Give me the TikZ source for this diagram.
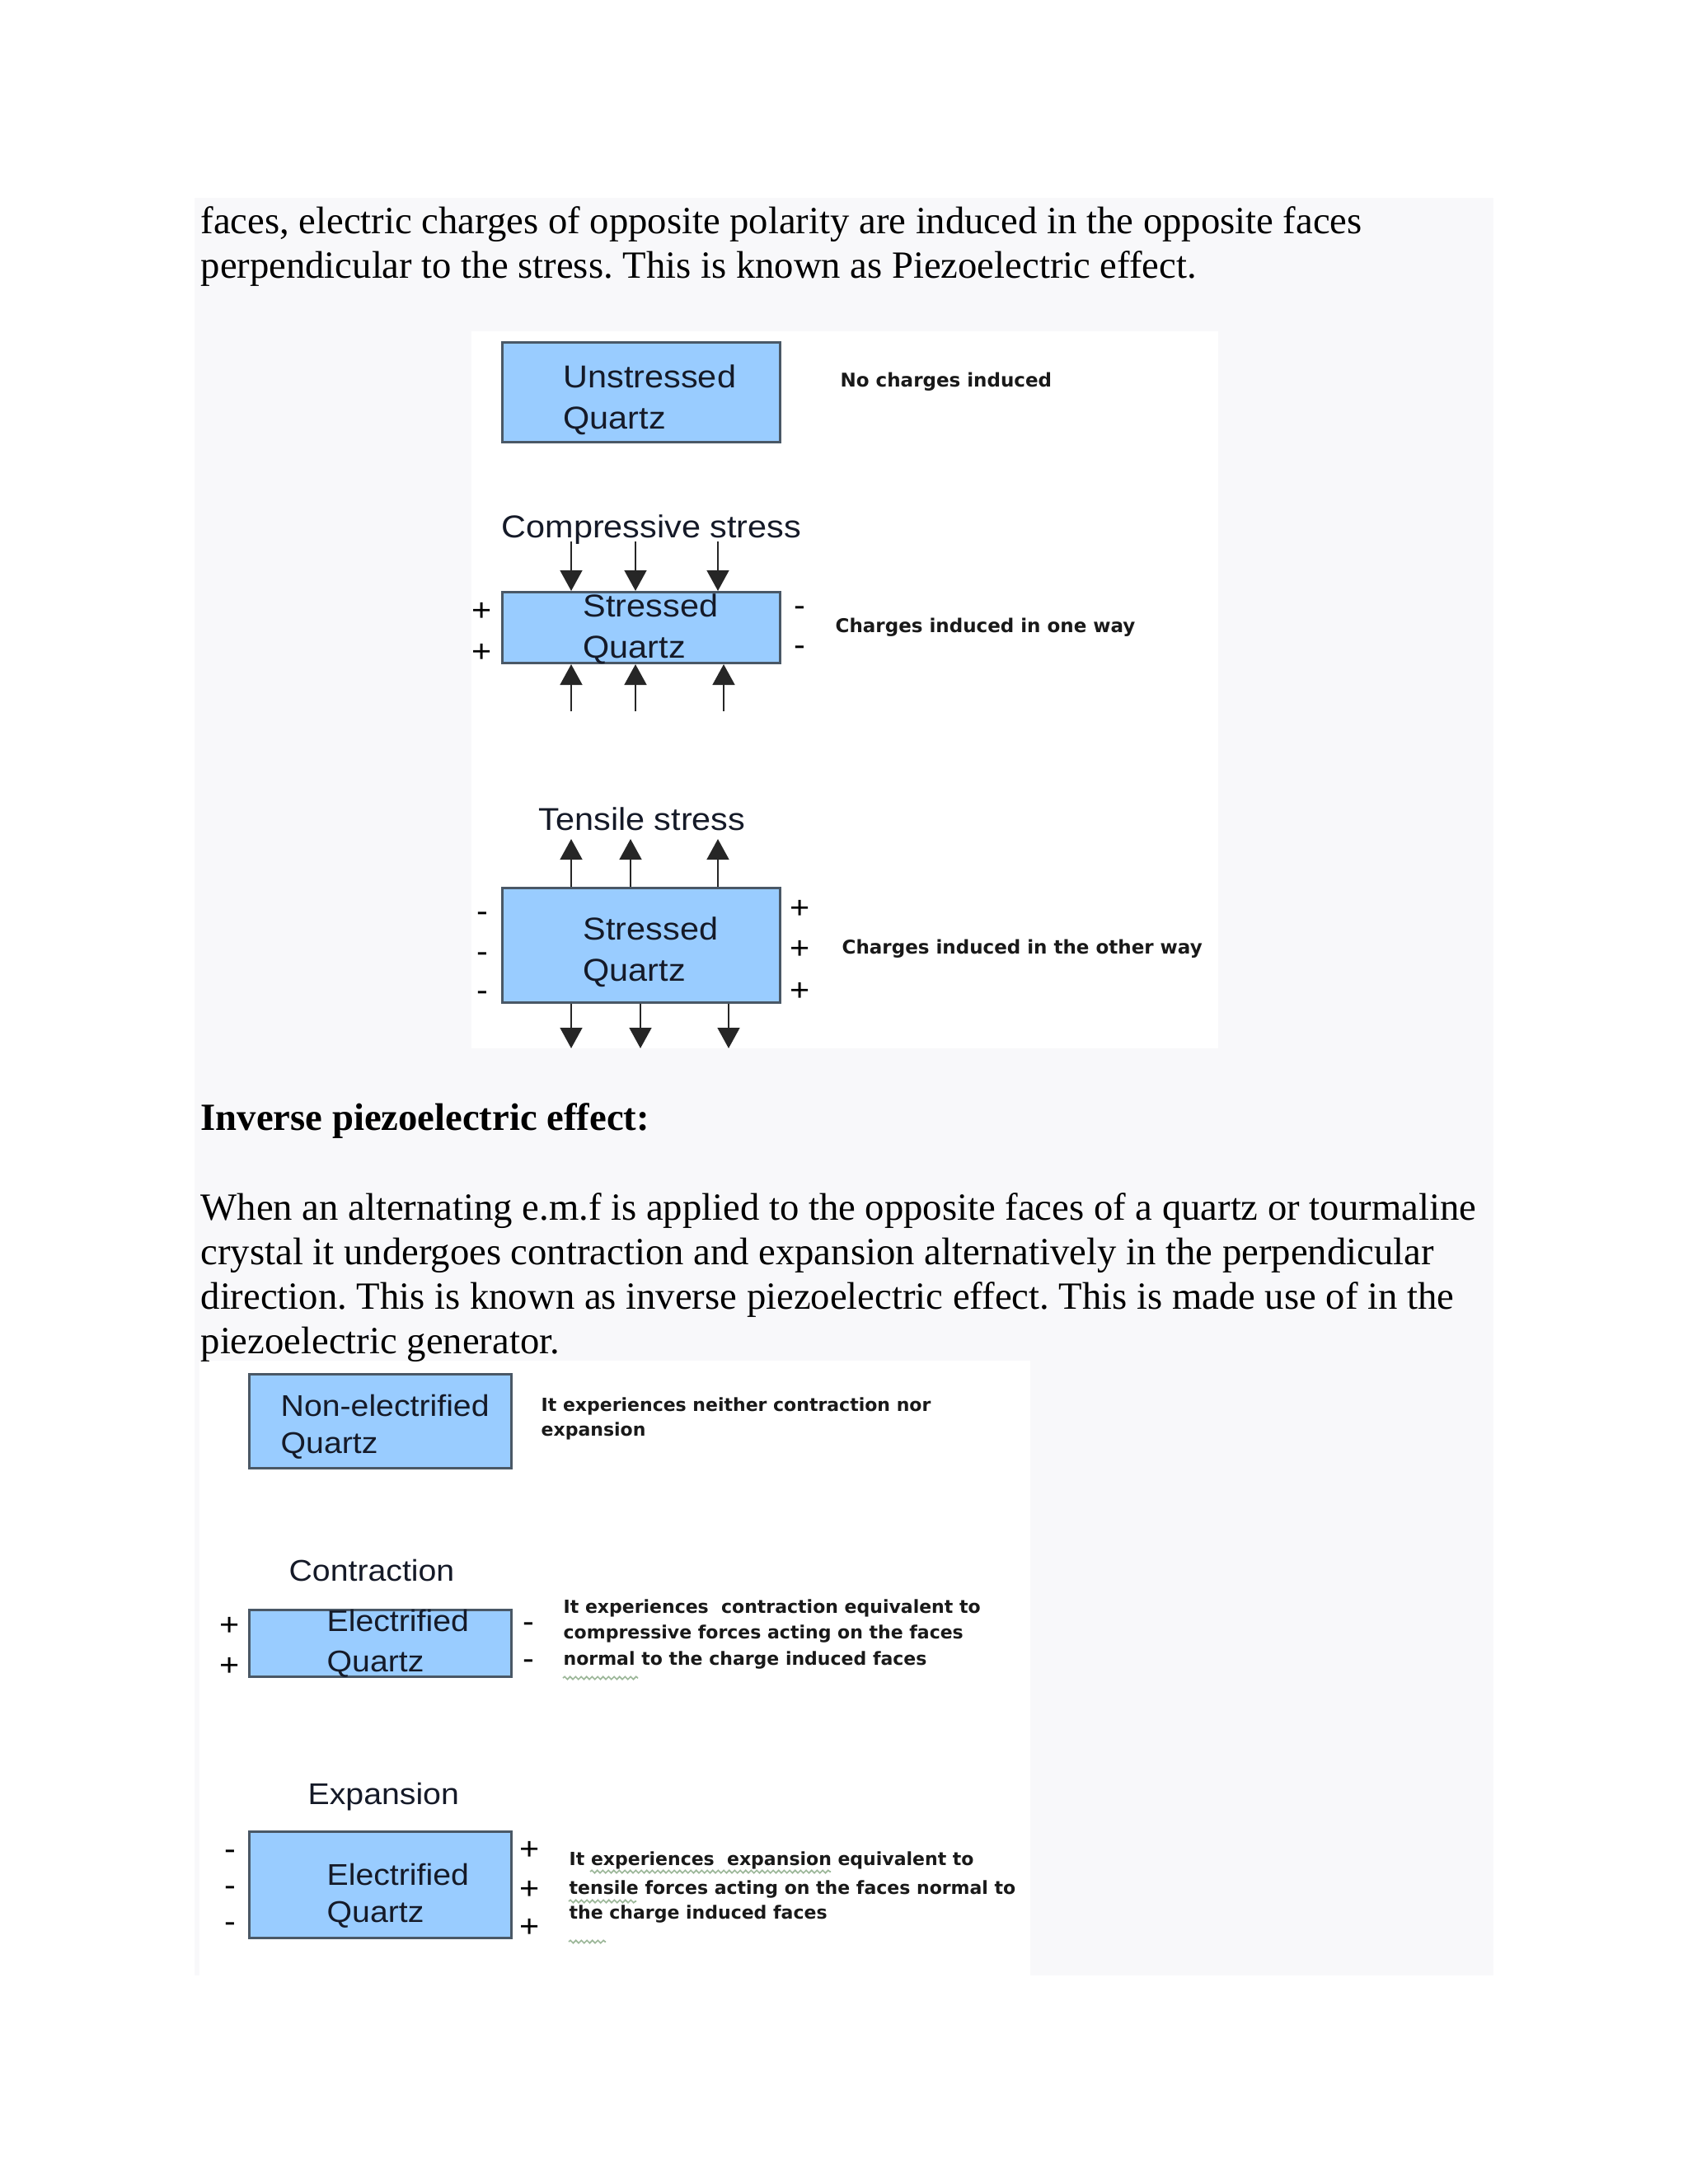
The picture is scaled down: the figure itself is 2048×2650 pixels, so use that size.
\documentclass[tikz,border=0pt]{standalone}
\usepackage{fontspec}
\setmainfont{Liberation Serif}
\newfontfamily\labfont[FakeStretch=1.08]{Liberation Sans}
\newfontfamily\sidefont{DejaVu Sans}
\usetikzlibrary{arrows.meta,decorations.pathmorphing}
\definecolor{pagegray}{HTML}{F8F8FA}
\definecolor{boxblue}{HTML}{99CCFF}
\definecolor{boxline}{HTML}{4A5866}
\definecolor{squigcol}{HTML}{9DB89A}
\definecolor{labtext}{HTML}{151A28}
\frenchspacing
\tikzset{
  body/.style={anchor=base west, inner sep=0pt, font=\fontsize{14}{16}\selectfont},
  labA/.style={anchor=base west, inner sep=0pt, text=labtext, font=\labfont\fontsize{11.5}{13}\selectfont},
  labB/.style={anchor=base west, inner sep=0pt, text=labtext, font=\labfont\fontsize{10.9}{12}\selectfont},
  sideA/.style={anchor=base west, inner sep=0pt, text=black!90, font=\sidefont\bfseries\fontsize{6.9}{8}\selectfont},
  sideB/.style={anchor=base west, inner sep=0pt, text=black!90, font=\sidefont\bfseries\fontsize{6.6}{8}\selectfont},
  chg/.style={inner sep=0pt, font=\labfont\fontsize{11.5}{13}\selectfont},
  quartz/.style={draw=boxline, fill=boxblue, line width=0.9pt, anchor=north west, inner sep=0pt},
  arr/.style={draw=black!85, line width=0.8pt, -{Triangle[length=7.5pt,width=8pt]}},
  squig/.style={draw=squigcol, line width=0.5pt, decorate, decoration={snake, amplitude=0.5pt, segment length=2pt}}
}
\begin{document}
\begin{tikzpicture}[x=0.3pt,y=-0.3pt]
\useasboundingbox (0,0) rectangle (2048,2650);
\fill[white] (0,0) rectangle (2048,2650);
\fill[pagegray] (236,240) rectangle (1812,2397);
\fill[white] (572,402) rectangle (1478,1272);
\fill[white] (242,1651) rectangle (1250,2397);

% body text
\node[body] (t1) at (243,283) {faces, electric charges of opposite polarity are induced in the opposite faces};
\node[body] (t2) at (243,337) {perpendicular to the stress. This is known as Piezoelectric effect.};
\node[body, font=\fontsize{14}{16}\selectfont\bfseries] (hd) at (243,1371) {Inverse piezoelectric effect:};
\node[body] (p1) at (243,1480) {When an alternating e.m.f is applied to the opposite faces of a quartz or tourmaline};
\node[body] (p2) at (243,1534) {crystal it undergoes contraction and expansion alternatively in the perpendicular};
\node[body] (p3) at (243,1588) {direction. This is known as inverse piezoelectric effect. This is made use of in the};
\node[body] (p4) at (243,1642) {piezoelectric generator.};

% ---------- image 1 ----------
\node[quartz, minimum width=101.1pt, minimum height=36.3pt] (b1) at (608,414) {};
\node[labA] (b1a) at (683,470) {Unstressed};
\node[labA] (b1b) at (683,520) {Quartz};
\node[sideA] (s1) at (1019,469) {No charges induced};

\node[labA] (cs) at (608,652) {Compressive stress};
\node[quartz, minimum width=101.1pt, minimum height=25.8pt] (b2) at (608,717) {};
\node[labA] (b2a) at (707,748) {Stressed};
\node[labA] (b2b) at (707,798) {Quartz};
\coordinate (d1) at (693,657);
\coordinate (d2) at (771,657);
\coordinate (d3) at (871,657);
\draw[arr] (d1) -- (d1 |- b2.north);
\draw[arr] (d2) -- (d2 |- b2.north);
\draw[arr] (d3) -- (d3 |- b2.north);
\coordinate (u1) at (693,863);
\coordinate (u2) at (771,863);
\coordinate (u3) at (878,863);
\draw[arr] (u1) -- (u1 |- b2.south);
\draw[arr] (u2) -- (u2 |- b2.south);
\draw[arr] (u3) -- (u3 |- b2.south);
\node[chg] (p2a) at (585,742) {+};
\node[chg] (p2b) at (585,792) {+};
\node[chg] (m2a) at (970,742) {-};
\node[chg] (m2b) at (970,790) {-};
\node[sideA] (s2) at (1013,767) {Charges induced in one way};

\node[labA] (ts) at (653,1007) {Tensile stress};
\node[quartz, minimum width=101.1pt, minimum height=41.7pt] (b3) at (608,1076) {};
\node[labA] (b3a) at (707,1140) {Stressed};
\node[labA] (b3b) at (707,1190) {Quartz};
\coordinate (e1) at (693,1018);
\coordinate (e2) at (765,1018);
\coordinate (e3) at (871,1018);
\draw[arr] (e1 |- b3.north) -- (e1);
\draw[arr] (e2 |- b3.north) -- (e2);
\draw[arr] (e3 |- b3.north) -- (e3);
\coordinate (f1) at (693,1272);
\coordinate (f2) at (777,1272);
\coordinate (f3) at (884,1272);
\draw[arr] (f1 |- b3.south) -- (f1);
\draw[arr] (f2 |- b3.south) -- (f2);
\draw[arr] (f3 |- b3.south) -- (f3);
\node[chg] (m3a) at (585,1113) {-};
\node[chg] (m3b) at (585,1162) {-};
\node[chg] (m3c) at (585,1209) {-};
\node[chg] (p3a) at (971,1103) {+};
\node[chg] (p3b) at (971,1152) {+};
\node[chg] (p3c) at (971,1203) {+};
\node[sideA] (s3) at (1021,1157) {Charges induced in the other way};

% ---------- image 2 ----------
\node[quartz, minimum width=95.4pt, minimum height=34.2pt] (b4) at (301,1666) {};
\node[labB] (b4a) at (340,1718) {Non-electrified};
\node[labB] (b4b) at (340,1763) {Quartz};
\node[sideB] (s4a) at (656,1712) {It experiences neither contraction nor};
\node[sideB] (s4b) at (656,1742) {expansion};

\node[labB] (ct) at (350,1918) {Contraction};
\node[quartz, minimum width=95.4pt, minimum height=24.3pt] (b5) at (301,1952) {};
\node[labB] (b5a) at (396,1979) {Electrified};
\node[labB] (b5b) at (396,2028) {Quartz};
\node[chg] (p5a) at (279,1973) {+};
\node[chg] (p5b) at (279,2022) {+};
\node[chg] (m5a) at (641,1975) {-};
\node[chg] (m5b) at (641,2020) {-};
\node[sideB] (s5a) at (683,1957) {It experiences\ \ contraction equivalent to};
\node[sideB] (s5b) at (683,1988) {compressive forces acting on the faces};
\node[sideB] (s5c) at (683,2020) {normal to the charge induced faces};
\coordinate (q1) at (683,2036);
\coordinate (q2) at (774,2036);
\draw[squig] (q1) -- (q2);

\node[labB] (ex) at (373,2189) {Expansion};
\node[quartz, minimum width=95.4pt, minimum height=38.7pt] (b6) at (301,2221) {};
\node[labB] (b6a) at (396,2287) {Electrified};
\node[labB] (b6b) at (396,2332) {Quartz};
\node[chg] (m6a) at (279,2251) {-};
\node[chg] (m6b) at (279,2295) {-};
\node[chg] (m6c) at (279,2339) {-};
\node[chg] (p6a) at (643,2245) {+};
\node[chg] (p6b) at (643,2293) {+};
\node[chg] (p6c) at (643,2339) {+};
\node[sideB] (s6a) at (690,2263) {It experiences\ \ expansion equivalent to};
\node[sideB] (s6b) at (690,2298) {tensile forces acting on the faces normal to};
\node[sideB] (s6c) at (690,2328) {the charge induced faces};
\coordinate (r1) at (716,2271);
\coordinate (r2) at (1008,2271);
\coordinate (r3) at (690,2307);
\coordinate (r4) at (772,2307);
\coordinate (r5) at (690,2356);
\coordinate (r6) at (735,2356);
\draw[squig] (r1) -- (r2);
\draw[squig] (r3) -- (r4);
\draw[squig] (r5) -- (r6);
\end{tikzpicture}
\end{document}
